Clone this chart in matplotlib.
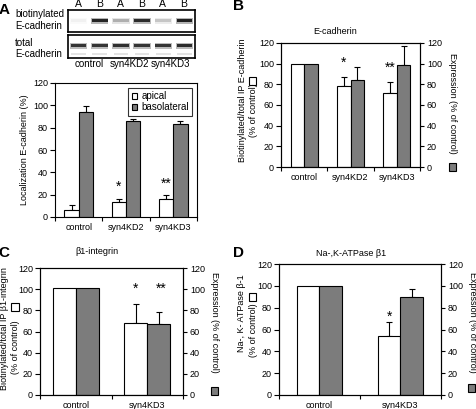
import numpy as np
import matplotlib
matplotlib.use("Agg")
from matplotlib import pyplot as plt
from matplotlib.patches import Rectangle

plt.rcParams['font.family'] = ['Liberation Sans', 'DejaVu Sans']
plt.rcParams['font.size'] = 6.5
plt.rcParams['axes.linewidth'] = 0.8

W, H = 477, 409
GRAY = '#7c7c7c'

# ---- data ----
lanes = ['A', 'B', 'A', 'B', 'A', 'B']
blot_groups = ['control', 'syn4KD2', 'syn4KD3']
biot_band = [0.06, 0.95, 0.35, 0.92, 0.25, 0.97]
total_band = [0.88, 0.88, 0.9, 0.88, 0.88, 0.92]

a_cats = ['control', 'syn4KD2', 'syn4KD3']
a_apical = [6, 13, 16]
a_apical_err = [5, 3, 4]
a_baso = [94, 86, 83]
a_baso_err = [5, 2, 3]

b_cats = ['control', 'syn4KD2', 'syn4KD3']
b_surface = [100, 78, 72]
b_surface_err = [0, 9, 10]
b_expr = [100, 84, 99]
b_expr_err = [0, 13, 18]

c_cats = ['control', 'syn4KD3']
c_surface = [101, 68]
c_surface_err = [0, 18]
c_expr = [101, 67]
c_expr_err = [0, 11]

d_cats = ['control', 'syn4KD3']
d_surface = [100, 54]
d_surface_err = [0, 13]
d_expr = [100, 90]
d_expr_err = [0, 7]


def box(l, t, r, b):
    return [l / W, 1 - b / H, (r - l) / W, (b - t) / H]


def fx(x):
    return x / W


def fy(y):
    return 1 - y / H


fig = plt.figure(figsize=(W / 100, H / 100), dpi=100)


def square(x, y, color):
    fig.add_artist(Rectangle((fx(x - 3.5), fy(y + 4)), 7 / W, 8 / H,
                             facecolor=color, edgecolor='k', lw=0.8,
                             transform=fig.transFigure))


def bars(ax, cats, wv, we, gv, ge, w=0.29):
    n = len(cats)
    x = np.arange(n) + 0.5
    ax.bar(x - w / 2, wv, w, color='white', edgecolor='k', lw=0.8, zorder=2)
    ax.bar(x + w / 2, gv, w, color=GRAY, edgecolor='k', lw=0.8, zorder=2)
    we = np.array(we); ge = np.array(ge)
    m = we > 0
    ax.errorbar((x - w / 2)[m], np.array(wv)[m], yerr=[0 * we[m], we[m]], fmt='none',
                ecolor='k', elinewidth=0.8, capsize=2.5, capthick=0.8, zorder=1)
    m = ge > 0
    ax.errorbar((x + w / 2)[m], np.array(gv)[m], yerr=[0 * ge[m], ge[m]], fmt='none',
                ecolor='k', elinewidth=0.8, capsize=2.5, capthick=0.8, zorder=1)
    ax.set_xlim(0, n)
    ax.set_ylim(0, 120)
    ax.set_yticks(range(0, 121, 20))
    ax.set_xticks(range(n + 1))
    ax.set_xticklabels([])
    ax.set_xticks(x, minor=True)
    ax.set_xticklabels(cats, minor=True)
    ax.tick_params(axis='x', which='major', direction='out', length=3, width=0.8)
    ax.tick_params(axis='x', which='minor', length=0, pad=4)
    ax.tick_params(axis='y', direction='out', length=3.5, width=0.8, pad=1.5)
    return x


def twin(ax):
    ax2 = ax.twinx()
    ax2.set_ylim(0, 120)
    ax2.set_yticks(range(0, 121, 20))
    ax2.tick_params(axis='y', direction='out', length=3, width=0.8, pad=2)
    return ax2


# ---- A: blots ----
for (t, b), vals, yb in [((10, 32), biot_band, 0.42), ((35, 58), total_band, 0.45)]:
    bx = fig.add_axes(box(68, t, 195, b))
    bx.set_xlim(0, 6)
    bx.set_ylim(0, 1)
    bx.set_xticks([])
    bx.set_yticks([])
    for s in bx.spines.values():
        s.set_linewidth(1.2)
    lx = np.arange(6) + 0.5
    # soft halo then dark core of each band
    bx.bar(lx, 0.26, 0.82, bottom=yb - 0.04, color=[str(1 - 0.3 * v) for v in vals], lw=0)
    bx.bar(lx, 0.14, 0.74, bottom=yb + 0.02, color=[str(1 - 0.9 * v) for v in vals], lw=0)
    if vals is total_band:
        # faint smear below the total band
        bx.bar(lx, 0.1, 0.7, bottom=0.12, color=[str(1 - 0.12 * v) for v in vals], lw=0)
    else:
        for i, lab in enumerate(lanes):
            fig.text(fx(78.5 + 21 * i), fy(4), lab, ha='center', va='center', fontsize=7.5)
fig.text(fx(15), fy(14), 'biotinylated', ha='left', va='center', fontsize=7)
fig.text(fx(15), fy(26), 'E-cadherin', ha='left', va='center', fontsize=7)
fig.text(fx(15), fy(43), 'total', ha='left', va='center', fontsize=7)
fig.text(fx(15), fy(54), 'E-cadherin', ha='left', va='center', fontsize=7)
for xc, lab in zip([89, 129, 170], blot_groups):
    fig.text(fx(xc), fy(64), lab, ha='center', va='center', fontsize=7)

# ---- A: bar chart ----
ax = fig.add_axes(box(55, 83, 197, 217))
x = bars(ax, a_cats, a_apical, a_apical_err, a_baso, a_baso_err, w=0.3)
ax.set_ylabel('Localization E-cadherin (%)', labelpad=3)
leg = ax.legend(['apical', 'basolateral'], loc='upper right', fontsize=7, frameon=True,
                fancybox=False, edgecolor='k', handlelength=0.6, handleheight=0.6,
                handletextpad=0.4, borderpad=0.35, labelspacing=0.1, borderaxespad=0.5)
leg.get_frame().set_linewidth(0.8)
ax.text(x[1] - 0.15, 27, '*', ha='center', va='center', fontsize=10)
ax.text(x[2] - 0.15, 30, '**', ha='center', va='center', fontsize=10)

# ---- B ----
ax = fig.add_axes(box(281, 43, 420, 167))
x = bars(ax, b_cats, b_surface, b_surface_err, b_expr, b_expr_err)
twin(ax)
fig.text(fx(335), fy(32), 'E-cadherin', ha='center', va='center')
ax.text(x[1] - 0.15, 101, '*', ha='center', va='center', fontsize=10)
ax.text(x[2] - 0.15, 96, '**', ha='center', va='center', fontsize=10)
fig.text(fx(243), fy(100), 'Biotinylated/total IP E-cadherin', rotation=90, ha='center', va='center')
fig.text(fx(253), fy(110), '(% of control)', rotation=90, ha='center', va='center')
square(252, 81, 'white')
fig.text(fx(453), fy(103), 'Expression (% of control)', rotation=270, ha='center', va='center')
square(453, 167, GRAY)

# ---- C ----
ax = fig.add_axes(box(40, 268, 183, 395))
x = bars(ax, c_cats, c_surface, c_surface_err, c_expr, c_expr_err, w=0.32)
twin(ax)
fig.text(fx(97), fy(252), '\u03b21-integrin', ha='center', va='center')
ax.text(x[1] - 0.16, 100, '*', ha='center', va='center', fontsize=10)
ax.text(x[1] + 0.2, 100, '**', ha='center', va='center', fontsize=10)
fig.text(fx(5), fy(329), 'Biotinylated/total IP \u03b21-integrin', rotation=90, ha='center', va='center')
fig.text(fx(16), fy(347), '(% of control)', rotation=90, ha='center', va='center')
square(15, 307, 'white')
fig.text(fx(215), fy(322), 'Expression (% of control)', rotation=270, ha='center', va='center')
square(215, 391, GRAY)

# ---- D ----
ax = fig.add_axes(box(279, 264, 441, 395))
x = bars(ax, d_cats, d_surface, d_surface_err, d_expr, d_expr_err, w=0.28)
twin(ax)
fig.text(fx(351), fy(254), 'Na-,K-ATPase \u03b21', ha='center', va='center')
ax.text(x[1] - 0.14, 72, '*', ha='center', va='center', fontsize=10)
fig.text(fx(241), fy(313), 'Na-, K- ATPase \u03b2-1', rotation=90, ha='center', va='center')
fig.text(fx(254), fy(330), '(% of control)', rotation=90, ha='center', va='center')
square(253, 297, 'white')
fig.text(fx(473), fy(322), 'Expression (% of control)', rotation=270, ha='center', va='center')
square(472, 388, GRAY)

# panel letters
for lab, (px, py) in zip('ABCD', [(4, 10), (239, 6), (4, 253), (239, 253)]):
    fig.text(fx(px), fy(py), lab, ha='center', va='center', fontsize=11, fontweight='bold')

fig.savefig('out.png', dpi=100)
